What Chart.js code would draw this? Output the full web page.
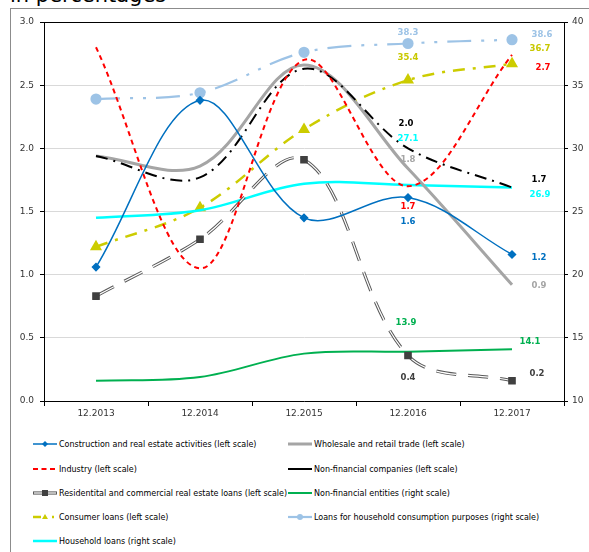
<!DOCTYPE html>
<html><head><meta charset="utf-8">
<script src="https://cdn.jsdelivr.net/npm/chart.js@4"></script>
<style>
html,body{margin:0;padding:0;background:#fff;overflow:hidden;}
body{width:589px;height:552px;position:relative;font-family:"DejaVu Sans",sans-serif;}
#title{position:absolute;left:10px;top:-15px;font-size:21px;line-height:20px;color:#000;white-space:nowrap;}
#frame{position:absolute;left:10px;top:8px;width:600px;height:600px;border-left:1px solid #8c8c8c;border-top:1px solid #8c8c8c;}
#wrap{position:absolute;left:0;top:0;width:589px;height:420px;}
.lg{position:absolute;height:14px;display:flex;align-items:center;font-size:8px;color:#000;white-space:nowrap;}
.lg svg{width:26px;height:10px;margin-right:0px;flex:none;}
</style></head>
<body>
<div id="title">in percentages</div>
<div id="frame"></div>
<div id="wrap"><canvas id="c" width="589" height="420"></canvas></div>
<div id="legend"></div>
<script>
const categories = ['12.2013','12.2014','12.2015','12.2016','12.2017'];
// left scale
const construction = [1.06, 2.38, 1.45, 1.61, 1.16];
const wholesale = [1.94, 1.86, 2.66, 1.84, 0.92];
const industry = [2.80, 1.05, 2.70, 1.70, 2.74];
const nonFinCompanies = [1.94, 1.77, 2.63, 2.00, 1.69];
const residential = [0.83, 1.28, 1.91, 0.36, 0.16];
// right scale
const nonFinEntities = [11.6, 11.9, 13.75, 13.9, 14.1];
const consumerLoans = [22.2, 25.3, 31.5, 35.4, 36.7];
const householdConsumption = [33.9, 34.4, 37.6, 38.3, 38.6];
const householdLoans = [24.5, 25.1, 27.2, 27.1, 26.9];

const seriesNames = {
  construction: 'Construction and real estate activities (left scale)',
  wholesale: 'Wholesale and retail trade (left scale)',
  industry: 'Industry (left scale)',
  nonFinCompanies: 'Non-financial companies (left scale)',
  residential: 'Residentital and commercial real estate loans (left scale)',
  nonFinEntities: 'Non-financial entities (right scale)',
  consumerLoans: 'Consumer loans (left scale)',
  householdConsumption: 'Loans for household consumption purposes (right scale)',
  householdLoans: 'Household loans (right scale)'
};

const C = {
  blue:'#0070C0', gray:'#A5A5A5', red:'#FF0000', black:'#000000', dark:'#404040',
  green:'#00B050', yellow:'#CCCC00', light:'#9DC3E6', cyan:'#00FFFF'
};

const T = 0.35;
const datasets = [
  {id:'construction', label:seriesNames.construction, data:construction, yAxisID:'y', borderColor:C.blue, borderWidth:1.5,
   pointStyle:'rectRot', pointRadius:3.5, pointBackgroundColor:C.blue, pointBorderColor:C.blue, tension:T},
  {id:'industry', label:seriesNames.industry, data:industry, yAxisID:'y', borderColor:C.red, borderWidth:2, borderDash:[5,4],
   pointRadius:0, tension:T},
  {id:'nonFinCompanies', label:seriesNames.nonFinCompanies, data:nonFinCompanies, yAxisID:'y', borderColor:C.black, borderWidth:2,
   borderDash:[12,6,2,6], pointRadius:0, tension:T},
  {id:'wholesale', label:seriesNames.wholesale, data:wholesale, yAxisID:'y', borderColor:C.gray, borderWidth:3,
   pointRadius:0, tension:T},
  {id:'residential', label:seriesNames.residential, data:residential, yAxisID:'y', borderColor:'#ffffff', borderWidth:1.2,
   borderDash:[20,12], pointStyle:'rect', pointRadius:4.5, pointBackgroundColor:C.dark, pointBorderColor:C.dark, tension:T},
  {id:'residentialOutline', label:'', data:residential, yAxisID:'y', borderColor:'#595959', borderWidth:3.2,
   borderDash:[20,12], pointRadius:0, tension:T},
  {id:'householdLoans', label:seriesNames.householdLoans, data:householdLoans, yAxisID:'y2', borderColor:C.cyan, borderWidth:2.5,
   pointRadius:0, tension:T},
  {id:'nonFinEntities', label:seriesNames.nonFinEntities, data:nonFinEntities, yAxisID:'y2', borderColor:C.green, borderWidth:2,
   pointRadius:0, tension:T},
  {id:'consumerLoans', label:seriesNames.consumerLoans, data:consumerLoans, yAxisID:'y2', borderColor:C.yellow, borderWidth:2.5,
   borderDash:[12,8,3,8], pointStyle:'triangle', pointRadius:4.5, pointBackgroundColor:C.yellow, pointBorderColor:C.yellow, tension:T},
  {id:'householdConsumption', label:seriesNames.householdConsumption, data:householdConsumption, yAxisID:'y2', borderColor:C.light, borderWidth:2.2,
   borderDash:[24,10,3,10,3,10], pointStyle:'circle', pointRadius:4.5, pointBackgroundColor:C.light, pointBorderColor:C.light, tension:T}
];
datasets.forEach((d,i)=>{ d.fill=false; d.order=i; });
const idxById = {}; datasets.forEach((d,i)=>idxById[d.id]=i);

// value labels: which point is labelled and the offset of its text
const valueLabels = [
  {key:'householdConsumption', i:3, dx:0, dy:-11, color:C.light},
  {key:'consumerLoans', i:3, dx:0, dy:-22, color:'#C8C800'},
  {key:'nonFinCompanies', i:3, dx:-2, dy:-25, color:C.black},
  {key:'householdLoans', i:3, dx:0, dy:-46, color:C.cyan},
  {key:'wholesale', i:3, dx:0, dy:-9, color:C.gray},
  {key:'industry', i:3, dx:0, dy:21, color:C.red},
  {key:'construction', i:3, dx:0, dy:24, color:C.blue},
  {key:'nonFinEntities', i:3, dx:-2, dy:-29, color:C.green},
  {key:'residential', i:3, dx:0, dy:22, color:C.dark},
  {key:'householdConsumption', i:4, dx:30, dy:-5, color:C.light},
  {key:'consumerLoans', i:4, dx:28, dy:-15, color:'#C8C800'},
  {key:'industry', i:4, dx:31, dy:13, color:C.red},
  {key:'nonFinCompanies', i:4, dx:27, dy:-8, color:C.black},
  {key:'householdLoans', i:4, dx:28, dy:7, color:C.cyan},
  {key:'construction', i:4, dx:27, dy:3, color:C.blue},
  {key:'wholesale', i:4, dx:27, dy:1, color:C.gray},
  {key:'nonFinEntities', i:4, dx:18, dy:-7, color:C.green},
  {key:'residential', i:4, dx:25, dy:-7, color:C.dark}
];

const extras = {
  id:'extras',
  afterDraw(chart){
    const ctx = chart.ctx, a = chart.chartArea;
    ctx.save();
    ctx.strokeStyle = '#000'; ctx.lineWidth = 1;
    ctx.beginPath(); ctx.moveTo(a.left, a.top+0.5); ctx.lineTo(a.right, a.top+0.5); ctx.stroke();
    ctx.font = 'bold 8.5px "DejaVu Sans"';
    ctx.textAlign = 'center'; ctx.textBaseline = 'middle';
    valueLabels.forEach(l=>{
      const di = idxById[l.key];
      const pt = chart.getDatasetMeta(di).data[l.i];
      const v = chart.data.datasets[di].data[l.i];
      ctx.fillStyle = l.color;
      ctx.fillText(v.toFixed(1), pt.x + l.dx, pt.y + l.dy);
    });
    ctx.restore();
  }
};

const tickFont = {family:'"DejaVu Sans"', size:9};
new Chart(document.getElementById('c'), {
  type:'line',
  data:{labels:categories, datasets},
  options:{
    responsive:false, animation:false, devicePixelRatio:1,
    layout:{padding:{top:22,left:0,right:0,bottom:0}},
    plugins:{legend:{display:false}, tooltip:{enabled:false}},
    scales:{
      x:{type:'category', offset:true,
         grid:{offset:true, drawOnChartArea:false, tickLength:5, tickColor:'#000'},
         border:{display:true, color:'#000', width:1},
         ticks:{font:tickFont, color:'#333', padding:2, maxRotation:0},
         afterFit(s){ s.height = 19; }},
      y:{position:'left', min:0, max:3,
         grid:{color:'#D9D9D9', lineWidth:1, tickLength:4, tickColor:'#000'},
         border:{display:true, color:'#000', width:1},
         ticks:{stepSize:0.5, font:tickFont, color:'#333', padding:6, callback:v=>v.toFixed(1)},
         afterFit(s){ s.width = 44; }},
      y2:{position:'right', min:10, max:40,
         grid:{drawOnChartArea:false, tickLength:4, tickColor:'#000'},
         border:{display:true, color:'#000', width:1},
         ticks:{stepSize:5, font:tickFont, color:'#333', padding:4},
         afterFit(s){ s.width = 25; }}
    }
  },
  plugins:[extras]
});

// legend
const W=26;
const mk = {
  construction:`<line x1="0" y1="5" x2="24" y2="5" stroke="${C.blue}" stroke-width="1.5"/><polygon points="12,2 15,5 12,8 9,5" fill="${C.blue}"/>`,
  wholesale:`<line x1="0" y1="5" x2="24" y2="5" stroke="${C.gray}" stroke-width="3"/>`,
  industry:`<line x1="0" y1="5" x2="24" y2="5" stroke="${C.red}" stroke-width="2" stroke-dasharray="5,3.5"/>`,
  nonFinCompanies:`<line x1="0" y1="5" x2="24" y2="5" stroke="${C.black}" stroke-width="2"/>`,
  residential:`<line x1="0" y1="5" x2="24" y2="5" stroke="#595959" stroke-width="3.2"/><line x1="1" y1="5" x2="23" y2="5" stroke="#fff" stroke-width="1.2"/><rect x="9" y="2" width="6" height="6" fill="${C.dark}"/>`,
  nonFinEntities:`<line x1="0" y1="5" x2="24" y2="5" stroke="${C.green}" stroke-width="2"/>`,
  consumerLoans:`<line x1="0" y1="5" x2="8" y2="5" stroke="${C.yellow}" stroke-width="2.5"/><polygon points="12,2 15,7 9,7" fill="${C.yellow}"/><line x1="19" y1="5" x2="21" y2="5" stroke="${C.yellow}" stroke-width="2.5"/>`,
  householdConsumption:`<line x1="0" y1="5" x2="24" y2="5" stroke="${C.light}" stroke-width="2.2"/><circle cx="12" cy="5" r="3" fill="${C.light}"/>`,
  householdLoans:`<line x1="0" y1="5" x2="24" y2="5" stroke="${C.cyan}" stroke-width="2.5"/>`
};
const legendRows = [
  ['construction','wholesale'],
  ['industry','nonFinCompanies'],
  ['residential','nonFinEntities'],
  ['consumerLoans','householdConsumption'],
  ['householdLoans',null]
];
const rowY = [444, 469, 493, 517, 541];
const colX = [33, 288];
const lg = document.getElementById('legend');
legendRows.forEach((row,r)=>row.forEach((k,c)=>{
  if(!k) return;
  const d = document.createElement('div');
  d.className='lg';
  d.style.left = colX[c]+'px';
  d.style.top = (rowY[r]-7)+'px';
  d.innerHTML = `<svg viewBox="0 0 ${W} 10">${mk[k]}</svg><span>${seriesNames[k]}</span>`;
  lg.appendChild(d);
}));
</script>
</body></html>
